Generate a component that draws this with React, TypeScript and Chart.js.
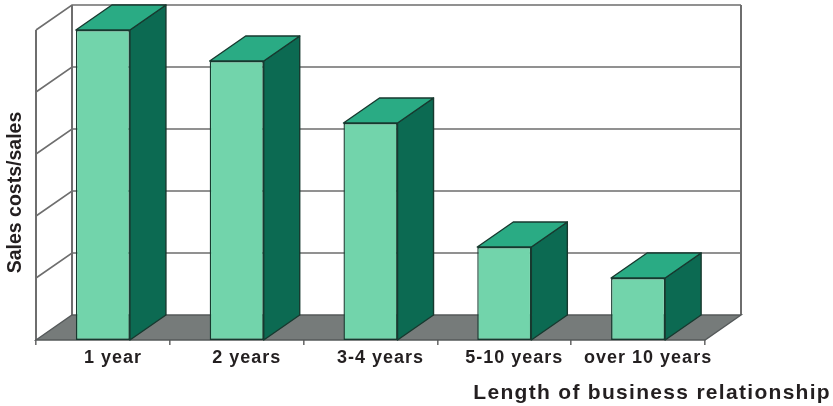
import { useEffect, useRef } from "react";
import { Chart, registerables } from "chart.js";

Chart.register(...registerables);

const categories = ["1 year", "2 years", "3-4 years", "5-10 years", "over 10 years"];
const salesCosts = [5, 4.5, 3.5, 1.5, 1];
const yAxisTitle = "Sales costs/sales";
const xAxisTitle = "Length of business relationship";

const DEPTH_X = 36;
const DEPTH_Y = 25;
const WALL = "#6e6e6e";
const FLOOR = "#767b7a";
const FACE_SIDE = "#0c6a52";
const FACE_TOP = "#2aab84";
const EDGE = "#17392f";
const INK = "#231f20";
const FONT = '"Liberation Sans", Arial, sans-serif';

function poly(ctx: CanvasRenderingContext2D, pts: number[][], fill: string | null, stroke: string, width: number) {
  ctx.beginPath();
  pts.forEach(([x, y], i) => (i ? ctx.lineTo(x, y) : ctx.moveTo(x, y)));
  ctx.closePath();
  if (fill) {
    ctx.fillStyle = fill;
    ctx.fill();
  }
  ctx.strokeStyle = stroke;
  ctx.lineWidth = width;
  ctx.stroke();
}

// Draws the floor, side wall and back wall of the 3D box behind the bars.
const boxPlugin = {
  id: "box",
  beforeDraw(chart: any) {
    // Wide tracking for the category labels.
    chart.ctx.letterSpacing = "1px";
  },
  beforeDatasetsDraw(chart: any) {
    const { ctx, chartArea: a, scales } = chart;
    const y = scales.y;
    ctx.save();
    ctx.lineCap = "butt";
    ctx.strokeStyle = WALL;
    ctx.lineWidth = 1.6;
    y.ticks.forEach((t: any) => {
      const py = y.getPixelForValue(t.value);
      if (t.value === 0) return;
      ctx.beginPath();
      ctx.moveTo(a.left, py);
      ctx.lineTo(a.left + DEPTH_X, py - DEPTH_Y);
      ctx.lineTo(a.right + DEPTH_X, py - DEPTH_Y);
      ctx.stroke();
    });
    ctx.lineWidth = 2;
    ctx.beginPath();
    ctx.moveTo(a.left, a.bottom);
    ctx.lineTo(a.left, a.top);
    ctx.moveTo(a.left + DEPTH_X, a.top - DEPTH_Y);
    ctx.lineTo(a.left + DEPTH_X, a.bottom - DEPTH_Y);
    ctx.moveTo(a.right + DEPTH_X, a.top - DEPTH_Y);
    ctx.lineTo(a.right + DEPTH_X, a.bottom - DEPTH_Y);
    ctx.stroke();
    poly(
      ctx,
      [
        [a.left, a.bottom],
        [a.left + DEPTH_X, a.bottom - DEPTH_Y],
        [a.right + DEPTH_X, a.bottom - DEPTH_Y],
        [a.right, a.bottom],
      ],
      FLOOR,
      "#55595a",
      1.4
    );
    ctx.restore();
  },
  // Side and top faces extruded from each bar element.
  afterDatasetsDraw(chart: any) {
    const { ctx } = chart;
    ctx.save();
    ctx.lineJoin = "round";
    chart.getDatasetMeta(0).data.forEach((bar: any) => {
      const { x, y, base, width } = bar.getProps(["x", "y", "base", "width"], true);
      const l = x - width / 2;
      const r = x + width / 2;
      poly(ctx, [[r, y], [r + DEPTH_X, y - DEPTH_Y], [r + DEPTH_X, base - DEPTH_Y], [r, base]], FACE_SIDE, EDGE, 1.4);
      poly(ctx, [[l, y], [l + DEPTH_X, y - DEPTH_Y], [r + DEPTH_X, y - DEPTH_Y], [r, y]], FACE_TOP, EDGE, 1.4);
    });
    ctx.restore();
  },
  // Both axis titles sit outside the plot box, offset from its centre.
  afterDraw(chart: any) {
    const { ctx } = chart;
    ctx.save();
    ctx.fillStyle = INK;
    ctx.textBaseline = "middle";
    ctx.font = `bold 21px ${FONT}`;
    ctx.letterSpacing = "1.3px";
    ctx.textAlign = "right";
    ctx.fillText(xAxisTitle, 831, 393);
    ctx.translate(16, 192.5);
    ctx.rotate(-Math.PI / 2);
    ctx.font = `bold 19.5px ${FONT}`;
    ctx.letterSpacing = "0px";
    ctx.textAlign = "center";
    ctx.fillText(yAxisTitle, 0, 0);
    ctx.restore();
  },
};

export default function App() {
  const ref = useRef<HTMLCanvasElement>(null);
  useEffect(() => {
    const chart = new Chart(ref.current!, {
      type: "bar",
      data: {
        labels: categories,
        datasets: [
          {
            data: salesCosts,
            backgroundColor: "#72d4ab",
            borderColor: EDGE,
            borderWidth: 1.4,
            borderSkipped: false,
            clip: false,
            categoryPercentage: 1,
            barPercentage: 0.404,
          },
        ],
      },
      options: {
        responsive: false,
        animation: false,
        layout: { padding: { top: 30, right: 128, left: 0, bottom: 0 } },
        plugins: { legend: { display: false }, tooltip: { enabled: false } },
        scales: {
          x: {
            afterFit: (s: any) => {
              s.height = 66;
            },
            border: { display: false },
            grid: { drawOnChartArea: false, drawTicks: true, tickLength: 5, color: WALL, lineWidth: 1.6, offset: true },
            ticks: {
              color: INK,
              font: { family: FONT, size: 18, weight: "bold" },
              padding: 2,
              maxRotation: 0,
              autoSkip: false,
              labelOffset: 10,
            },
          },
          y: {
            min: 0,
            max: 5,
            afterFit: (s: any) => {
              s.width = 36;
            },
            border: { display: false },
            grid: { display: false },
            ticks: { stepSize: 1, display: false },
          },
        },
      },
      plugins: [boxPlugin],
    } as any);
    return () => chart.destroy();
  }, []);
  return (
    <canvas
      ref={ref}
      width={833}
      height={406}
      style={{ position: "fixed", left: 0, top: 0, display: "block" }}
    />
  );
}
